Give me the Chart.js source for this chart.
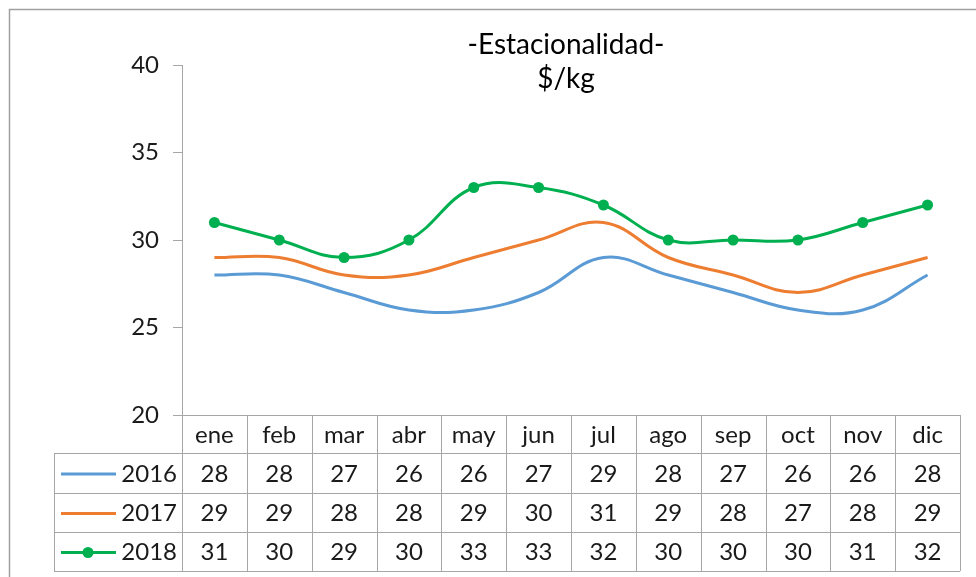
<!DOCTYPE html>
<html lang="es">
<head>
    <meta charset="UTF-8">
    <title>Estacionalidad</title>
    <script src="https://cdn.jsdelivr.net/npm/chart.js"></script>
    <style>
        html, body { margin: 0; padding: 0; background: #fff; }
        #wrap { width: 976px; height: 577px; }
    </style>
</head>
<body>
    <div id="wrap"><canvas id="myChart" width="976" height="577"></canvas></div>

    <script>
        const meses = ['ene', 'feb', 'mar', 'abr', 'may', 'jun', 'jul', 'ago', 'sep', 'oct', 'nov', 'dic'];
        const anios = ['2016', '2017', '2018'];
        const datos2016 = [28, 28, 27, 26, 26, 27, 29, 28, 27, 26, 26, 28];
        const datos2017 = [29, 29, 28, 28, 29, 30, 31, 29, 28, 27, 28, 29];
        const datos2018 = [31, 30, 29, 30, 33, 33, 32, 30, 30, 30, 31, 32];
        const colores = ['#5B9BD5', '#ED7D31', '#00B050'];
        const titulo = ['-Estacionalidad-', '$/kg'];

        const FONT = 'Lato, "Open Sans", sans-serif';
        const TXT = '#1a1a1a';
        const LINEA = '#A6A6A6';

        // tabla de datos debajo del eje x (como en Excel)
        const tablaPlugin = {
            id: 'tabla',
            afterDraw(chart) {
                const c = chart.ctx;
                const x = chart.scales.x;
                const area = chart.chartArea;
                const w = (area.right - area.left) / meses.length;
                const top = area.bottom;
                const filas = [top, top + 38, top + 78, top + 117, top + 156];
                const izq = 54;

                c.save();
                // borde general
                c.strokeStyle = '#A0A0A0';
                c.lineWidth = 1.5;
                c.strokeRect(9.5, 9.5, 1000, 1000);

                // titulo
                c.fillStyle = '#000';
                c.font = '28px ' + FONT;
                c.textAlign = 'center';
                c.textBaseline = 'middle';
                c.fillText(titulo[0], 566, 45);
                c.fillText(titulo[1], 566, 79);

                // lineas de la tabla
                c.strokeStyle = LINEA;
                c.lineWidth = 1;
                c.beginPath();
                c.moveTo(area.left, Math.round(filas[0]) + 0.5);
                c.lineTo(area.right, Math.round(filas[0]) + 0.5);
                for (let i = 1; i < filas.length; i++) {
                    c.moveTo(izq, Math.round(filas[i]) + 0.5);
                    c.lineTo(area.right, Math.round(filas[i]) + 0.5);
                }
                for (let i = 0; i <= meses.length; i++) {
                    const xx = Math.round(area.left + i * w) + 0.5;
                    c.moveTo(xx, filas[0]);
                    c.lineTo(xx, filas[4]);
                }
                c.moveTo(izq + 0.5, filas[1]);
                c.lineTo(izq + 0.5, filas[4]);
                c.stroke();

                // encabezado de meses
                c.fillStyle = TXT;
                c.font = '24px ' + FONT;
                c.textAlign = 'center';
                meses.forEach((m, i) => {
                    c.fillText(m, x.getPixelForValue(i), (filas[0] + filas[1]) / 2 + 1);
                });

                // filas de valores
                chart.data.datasets.forEach((ds, r) => {
                    const cy = (filas[r + 1] + filas[r + 2]) / 2 + 1;
                    c.strokeStyle = ds.borderColor;
                    c.lineWidth = 3;
                    c.beginPath();
                    c.moveTo(61, cy);
                    c.lineTo(116, cy);
                    c.stroke();
                    if (ds.pointRadius > 0) {
                        c.fillStyle = ds.borderColor;
                        c.beginPath();
                        c.arc(88, cy, 5.5, 0, Math.PI * 2);
                        c.fill();
                    }
                    c.fillStyle = TXT;
                    c.textAlign = 'right';
                    c.fillText(ds.label, 177, cy);
                    c.textAlign = 'center';
                    ds.data.forEach((v, i) => {
                        c.fillText(String(v), x.getPixelForValue(i), cy);
                    });
                });
                c.restore();
            }
        };

        const ctx = document.getElementById('myChart').getContext('2d');
        const series = [datos2016, datos2017, datos2018];

        const myChart = new Chart(ctx, {
            type: 'line',
            data: {
                labels: meses,
                datasets: anios.map((a, i) => ({
                    label: a,
                    data: series[i],
                    borderColor: colores[i],
                    backgroundColor: colores[i],
                    borderWidth: 3,
                    tension: 0.4,
                    fill: false,
                    pointRadius: i === 2 ? 5.5 : 0,
                    pointHoverRadius: i === 2 ? 5.5 : 0,
                    pointBorderWidth: 0
                }))
            },
            options: {
                responsive: false,
                animation: false,
                devicePixelRatio: 1,
                layout: {
                    padding: { left: 0, right: 16, top: 65, bottom: 162 }
                },
                plugins: {
                    legend: { display: false },
                    title: { display: false },
                    tooltip: { enabled: false }
                },
                scales: {
                    x: {
                        display: false,
                        offset: true
                    },
                    y: {
                        min: 20,
                        max: 40,
                        afterFit: (scale) => { scale.width = 182; },
                        border: { display: true, color: LINEA, width: 1 },
                        grid: {
                            drawOnChartArea: false,
                            drawTicks: true,
                            tickLength: 9,
                            color: LINEA
                        },
                        ticks: {
                            stepSize: 5,
                            padding: 14,
                            color: TXT,
                            font: { family: FONT, size: 24 }
                        }
                    }
                }
            },
            plugins: [tablaPlugin]
        });
    </script>
</body>
</html>
